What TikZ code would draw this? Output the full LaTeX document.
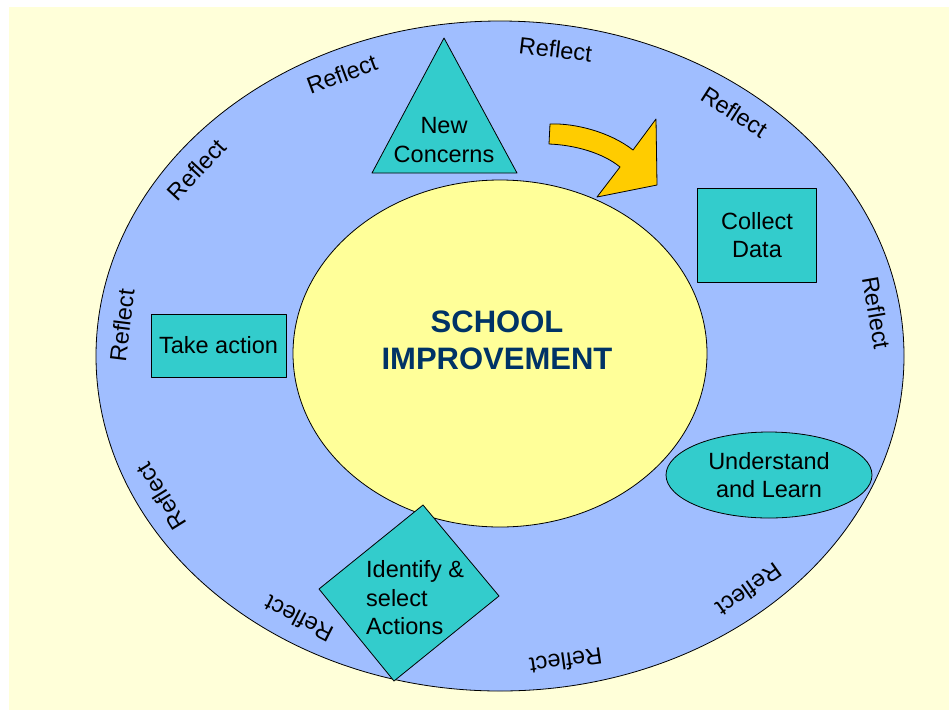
\documentclass[tikz,border=0pt]{standalone}
\usepackage{fontspec}
\setmainfont{Liberation Sans}
\usetikzlibrary{shapes.geometric}
\definecolor{paleyellow}{RGB}{255,255,217}
\definecolor{ringblue}{RGB}{160,190,255}
\definecolor{coreyellow}{RGB}{255,255,153}
\definecolor{tealbox}{RGB}{51,204,204}
\definecolor{navytext}{RGB}{0,51,102}
\definecolor{arrowgold}{RGB}{255,204,0}

\begin{document}
\begin{tikzpicture}[line cap=round,line join=round,x=1pt,y=-1pt,
		stagetext/.style={align=center,inner sep=0pt,font=\fontsize{23.5}{28.5}\selectfont},
		stagebox/.style={stagetext,draw=black,line width=0.8pt,fill=tealbox},
		stageshape/.style={draw=black,line width=0.8pt,fill=tealbox},
		reflecttext/.style={inner sep=0pt,font=\fontsize{23.5}{28}\selectfont}]
		\useasboundingbox (0,0) rectangle (949,710);
		\fill[paleyellow] (9,7) rectangle (949,710);
		% the two rings
		\node[ellipse,draw=black,line width=0.8pt,fill=ringblue,inner sep=0pt,minimum width=808pt,minimum height=670pt] (ring) at (500,356) {};
		\node[ellipse,draw=black,line width=0.8pt,fill=coreyellow,inner sep=0pt,minimum width=414pt,minimum height=347pt] (core) at (500,353.5) {};
		\node[text=navytext,align=center,inner sep=0pt,font=\bfseries\fontsize{31}{37}\selectfont] (title) at (497,340) {SCHOOL\\IMPROVEMENT};
		% reflect all around
		\foreach \t [count=\i] in {114.6,81.6,51.9,143,174.3,8,207,238,280,311}{
			\pgfmathsetmacro\rot{atan2(-310*cos(\t),380*sin(\t))}
			\node[reflecttext,rotate=\rot] (reflect\i) at ([shift={(\t:380pt and 310pt)}]ring.center) {Reflect};
		}
		% stages
		\draw[stageshape] (444,38) -- (372,173) -- (517,173) -- cycle;
		\node[stagetext] (concerns) at (444,140) {New\\Concerns};
		\node[stagebox,minimum width=119pt,minimum height=94pt] (collect) at (757,235) {Collect\\Data};
		\node[stagebox,ellipse,minimum width=206pt,minimum height=86pt] (learn) at (769,475) {Understand\\and Learn};
		\draw[stageshape] (423,505) -- (499,596) -- (394,681) -- (319,589) -- cycle;
		\node[stagetext,align=left,anchor=west] (select) at (366,598) {Identify \&\\select\\Actions};
		\node[stagebox,minimum width=135pt,minimum height=63pt] (act) at (218.5,345.5) {Take action};
		% turning arrow
		\filldraw[fill=arrowgold,draw=black,line width=0.8pt] (550,124) .. controls (575,123) and (610,132) .. (633,150) -- (656,119) -- (657,185) -- (597,197) -- (620,167) .. controls (603,153) and (575,145) .. (549,144) -- cycle;
	\end{tikzpicture}
\end{document}
